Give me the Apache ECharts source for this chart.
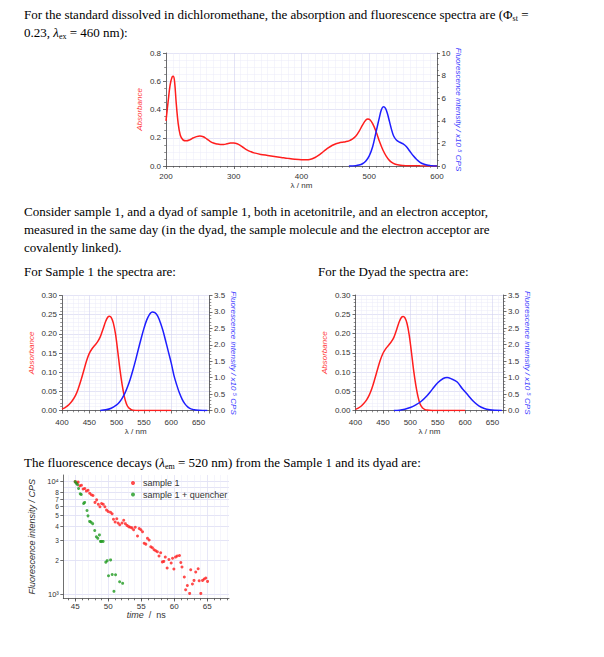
<!DOCTYPE html>
<html><head><meta charset="utf-8">
<script src="https://cdn.jsdelivr.net/npm/echarts@6/dist/echarts.min.js"></script>
<style>
html,body{margin:0;padding:0;background:#fff;}
#wrap{position:relative;width:604px;height:657px;overflow:hidden;background:#fff;}
#chart{position:absolute;left:0;top:0;width:604px;height:657px;}
.t{position:absolute;left:24px;font-family:'Liberation Serif','Times New Roman',serif;font-size:13px;line-height:16px;color:#000;white-space:nowrap;}
.t sub{font-size:8px;vertical-align:-2px;line-height:0;}
</style></head><body>
<div id="wrap">
<div id="chart"></div>
<div class="t" style="top:7px">For the standard dissolved in dichloromethane, the absorption and fluorescence spectra are (Φ<sub>st</sub> =</div>
<div class="t" style="top:25px">0.23, <i>λ</i><sub>ex</sub> = 460 nm):</div>
<div class="t" style="top:204px">Consider sample 1, and a dyad of sample 1, both in acetonitrile, and an electron acceptor,</div>
<div class="t" style="top:222px">measured in the same day (in the dyad, the sample molecule and the electron acceptor are</div>
<div class="t" style="top:240px">covalently linked).</div>
<div class="t" style="top:264px">For Sample 1 the spectra are:</div>
<div class="t" style="top:264px;left:318px">For the Dyad the spectra are:</div>
<div class="t" style="top:455px">The fluorescence decays (<i>λ</i><sub>em</sub> = 520 nm) from the Sample 1 and its dyad are:</div>
</div>
<script>
// ---------- data ----------
const stdAbsNm = [200,203,206,209,211,213,215,218,221,225,230,235,240,245,250,255,260,265,270,275,280,285,290,295,300,305,310,315,320,325,330,340,350,360,370,380,390,400,410,415,420,425,430,435,440,445,450,455,460,465,470,475,480,485,490,495,498,501,505,510,515,520,525,530,535,540,550,560,575,600];
const stdAbs = [0.32,0.45,0.57,0.63,0.635,0.58,0.45,0.30,0.22,0.185,0.178,0.185,0.198,0.208,0.212,0.207,0.192,0.175,0.163,0.156,0.152,0.152,0.157,0.162,0.163,0.158,0.145,0.128,0.113,0.102,0.093,0.082,0.075,0.068,0.061,0.054,0.048,0.045,0.045,0.050,0.060,0.075,0.093,0.112,0.130,0.145,0.156,0.163,0.168,0.172,0.178,0.190,0.210,0.245,0.290,0.325,0.333,0.328,0.300,0.245,0.175,0.115,0.070,0.038,0.020,0.010,0.004,0.002,0.001,0.0];
const stdFlNm = [470,480,485,490,495,500,505,510,515,518,521,524,527,530,533,536,540,545,550,555,560,565,570,575,580,585,590,595,600];
const stdFl = [0,0.03,0.08,0.2,0.45,0.9,1.7,3.0,4.3,5.0,5.25,5.1,4.6,3.9,3.2,2.65,2.3,2.1,1.95,1.7,1.3,0.9,0.58,0.33,0.18,0.09,0.04,0.01,0];

const s1AbsNm = [400,405,410,415,420,425,430,435,440,445,450,455,460,465,470,475,480,484,487,490,494,498,502,506,510,514,518,522,526,530,540,600];
const s1Abs = [0.004,0.007,0.012,0.019,0.028,0.040,0.058,0.080,0.105,0.130,0.149,0.161,0.170,0.179,0.192,0.212,0.233,0.244,0.246,0.243,0.228,0.199,0.155,0.108,0.068,0.037,0.017,0.007,0.003,0.001,0,0];
const s1FlNm = [470,480,490,500,505,510,515,520,525,530,535,540,545,550,555,560,565,570,575,580,585,590,595,600,605,610,615,620,625,630,635,640,650,660,666];
const s1Fl = [0,0.02,0.07,0.17,0.25,0.37,0.52,0.72,0.96,1.24,1.55,1.88,2.2,2.5,2.75,2.92,3.0,2.98,2.88,2.68,2.42,2.1,1.77,1.44,1.06,0.78,0.53,0.34,0.2,0.11,0.055,0.03,0.008,0.001,0];

const dyAbsNm = [400,405,410,415,420,425,430,435,440,445,450,455,460,465,470,475,480,484,487,490,494,498,502,506,510,514,518,522,526,530,540,600];
const dyAbs = [0.003,0.006,0.011,0.018,0.027,0.040,0.058,0.081,0.106,0.130,0.148,0.160,0.169,0.178,0.190,0.210,0.231,0.242,0.244,0.241,0.226,0.196,0.152,0.105,0.066,0.036,0.016,0.007,0.003,0.001,0,0];
const dyFlNm = [470,480,490,500,510,520,530,540,550,560,567,575,585,595,605,615,625,635,645,655,667];
const dyFl = [0,0.01,0.04,0.09,0.17,0.28,0.44,0.64,0.84,0.97,1.0,0.96,0.87,0.66,0.47,0.28,0.14,0.06,0.02,0.005,0];

const decayT1 = [45.00,45.25,45.45,45.70,45.95,46.20,46.45,46.70,46.95,47.20,47.45,47.70,48.00,48.25,48.50,48.75,49.00,49.25,49.50,49.75,50.00,50.35,50.60,50.80,51.05,51.30,51.50,51.75,52.10,52.35,52.60,52.85,53.10,53.35,53.60,53.85,54.10,54.44,54.70,54.95,55.20,55.45,55.70,55.95,56.20,56.45,56.70,56.95,57.20,57.45,57.70,57.95,58.20,58.42,58.65,58.93,59.20,59.54,59.75,59.95,60.20,60.45,60.80,61.00,61.18,61.53,61.73,61.99,62.34,62.50,62.76,63.00,63.26,63.63,63.78,64.03,64.29,64.54,64.79,65.05];
const decayI1 = [10000,9700,9900,9200,9300,8600,8700,8250,8400,7900,7650,7550,6550,6900,6300,6000,6400,6300,6000,5600,5450,5350,5200,4650,4400,4700,4300,4150,4300,4550,4250,4100,4000,3950,3900,3750,3950,3300,3850,3750,3600,2850,2800,3150,3050,2650,2600,2500,2450,2400,2200,2350,1950,1970,2150,1720,2050,1905,2100,1687,2150,2200,2220,1928,1758,1432,1107,1207,1026,1663,1241,1337,1585,1695,1330,1026,1337,1376,1404,1310];
const decayT2 = [45.00,45.15,45.36,45.51,45.77,45.92,46.28,46.43,46.79,46.94,47.19,47.40,47.65,47.96,48.21,48.42,48.67,48.83,48.98,49.23,49.64,49.85,50.36,50.05,50.61,51.12,51.73,52.19,50.87];
const decayI2 = [10000,9700,9400,8700,7800,7700,6400,6550,5550,4980,4450,4380,4250,3700,3250,3150,3380,2960,2960,2960,1940,2000,2030,1470,1510,1500,1300,1260,1070];

const decayXTicks = [45,50,55,60,65];
const decayXMinor = [44,45,46,47,48,49,50,51,52,53,54,55,56,57,58,59,60,61,62,63,64,65,66,67,68];
const decayYTicks = [1000,2000,3000,4000,5000,6000,7000,8000,9000,10000];
const decayYRange = [925,11450];

// ---------- style ----------
const FONT = "'Liberation Sans', Arial, Helvetica, sans-serif";
const AXC = '#4a4a4a', LABC = '#333333';
const GRIDC = '#d2d2f0', MINORC = '#ebebf8';
const RED = '#ff1e1e', BLUE = '#1e1eff', GREEN = '#1f9a1f';
const RED_T = '#ff3c3c', BLUE_T = '#3c3cff';

function merge(a, b) {
  const out = Array.isArray(a) ? a.slice() : Object.assign({}, a);
  for (const k in b) {
    if (b[k] && typeof b[k] === 'object' && !Array.isArray(b[k]) && a[k] && typeof a[k] === 'object' && !Array.isArray(a[k])) out[k] = merge(a[k], b[k]);
    else out[k] = b[k];
  }
  return out;
}
const baseAxis = {
  type: 'value',
  axisLine: {show: true, onZero: false, lineStyle: {color: AXC, width: 0.8}},
  axisTick: {show: true, length: 3, lineStyle: {color: AXC, width: 0.8}},
  minorTick: {show: true, length: 1.8, lineStyle: {color: AXC, width: 0.6}},
  axisLabel: {fontSize: 8, color: LABC, fontFamily: FONT},
  splitLine: {show: false},
  minorSplitLine: {show: false},
  nameLocation: 'middle',
  nameTextStyle: {fontSize: 8, color: LABC, fontFamily: FONT}
};
const gridLines = {
  splitLine: {show: true, lineStyle: {color: GRIDC, width: 0.6}},
  minorSplitLine: {show: true, lineStyle: {color: MINORC, width: 0.5}}
};
function ax(o) { return merge(baseAxis, o); }
function zip(xs, ys) { return xs.map((x, i) => [x, ys[i]]); }

function specAxes(gi, xmin, xmax, xint, xMinorN, yL, yR, gaps) {
  const xa = ax(merge(gridLines, {
    gridIndex: gi, min: xmin, max: xmax, interval: xint, position: 'bottom',
    minorTick: {splitNumber: xMinorN},
    axisLabel: {margin: gaps.xLab, showMaxLabel: xmax % xint === 0},
    name: 'λ / nm', nameGap: gaps.xName
  }));
  const yl = ax(merge(gridLines, {
    gridIndex: gi, min: 0, max: yL.max, interval: yL.int, position: 'left',
    minorTick: {splitNumber: yL.minor},
    axisLabel: {margin: 5, formatter: v => v.toFixed(yL.dec)},
    name: 'Absorbance', nameGap: gaps.yL,
    nameTextStyle: {color: RED_T, fontStyle: 'italic', fontSize: 8}
  }));
  const yr = ax({
    gridIndex: gi, min: 0, max: yR.max, interval: yR.int, position: 'right',
    minorTick: {splitNumber: yR.minor},
    axisLabel: {margin: 4.5, formatter: v => v.toFixed(yR.dec)},
    name: 'Fluorescence intensity / x10 \u2075 CPS', nameRotate: -90, nameGap: gaps.yR,
    nameTextStyle: {color: BLUE_T, fontStyle: 'italic', fontSize: 8}
  });
  return [xa, yl, yr];
}

const a1 = specAxes(0, 200, 600, 100, 10, {max: 0.8, int: 0.2, minor: 4, dec: 1}, {max: 10, int: 2, minor: 4, dec: 0}, {xLab: 6.5, xName: 15, yL: 23, yR: 16});
const a2 = specAxes(1, 400, 670, 50, 5, {max: 0.30, int: 0.05, minor: 5, dec: 2}, {max: 3.5, int: 0.5, minor: 5, dec: 1}, {xLab: 8, xName: 16.5, yL: 27, yR: 18.5});
const a3 = specAxes(2, 400, 670, 50, 5, {max: 0.30, int: 0.05, minor: 5, dec: 2}, {max: 3.5, int: 0.5, minor: 5, dec: 1}, {xLab: 8, xName: 16.5, yL: 27, yR: 19});

const logMin = Math.log10(decayYRange[0]), logMax = Math.log10(decayYRange[1]);
const decayYLog = decayYTicks.map(v => Math.log10(v));

const xDecayMajor = ax({
  gridIndex: 3, min: 43.2, max: 68.3, position: 'bottom',
  minorTick: {show: false},
  axisTick: {customValues: decayXTicks, length: 3},
  axisLabel: {customValues: decayXTicks, margin: 3.5, fontSize: 8},
  splitLine: {show: true, lineStyle: {color: GRIDC, width: 0.6}},
  name: '{i|time}  /  ns', nameGap: 10,
  nameTextStyle: {fontSize: 9, rich: {i: {fontStyle: 'italic', fontSize: 9, color: LABC, fontFamily: FONT}}}
});
const xDecayMinor = ax({
  gridIndex: 3, min: 43.2, max: 68.3, position: 'bottom',
  axisLine: {show: false}, axisLabel: {show: false}, minorTick: {show: false},
  axisTick: {customValues: decayXMinor, length: 1.8},
  splitLine: {show: true, lineStyle: {color: MINORC, width: 0.5}}
});
const yDecayLog = {gridIndex: 3, type: 'log', logBase: 10, min: decayYRange[0], max: decayYRange[1], show: false};
const yDecayLabels = ax({
  gridIndex: 3, min: logMin, max: logMax, position: 'left',
  minorTick: {show: false},
  axisTick: {customValues: decayYLog, length: 3},
  axisLabel: {customValues: decayYLog, margin: 4.5, fontSize: 6.5, lineHeight: 5,
    hideOverlap: false, showMinLabel: true, showMaxLabel: true,
    formatter: v => {
      const r = Math.round(Math.pow(10, v));
      if (r === 1000) return '{m|10\u00b3}';
      if (r === 10000) return '{m|10\u2074}';
      return '{n|' + Math.round(r / 1000) + '}';
    },
    rich: {
      m: {fontSize: 7.5, lineHeight: 5, color: LABC, fontFamily: FONT},
      n: {fontSize: 6.5, lineHeight: 5, color: LABC, fontFamily: FONT}
    }},
  splitLine: {show: true, lineStyle: {color: GRIDC, width: 0.6}},
  name: 'Fluorescence intensity / CPS', nameGap: 27,
  nameTextStyle: {fontSize: 9, fontStyle: 'italic'}
});

const lineS = (name, xi, yi, xs, ys, color) => ({
  name, type: 'line', xAxisIndex: xi, yAxisIndex: yi, data: zip(xs, ys),
  showSymbol: false, smooth: 0.35, clip: true,
  lineStyle: {color, width: 1.5}, itemStyle: {color}, z: 3
});
const scatS = (name, xs, ys, color) => ({
  name, type: 'scatter', xAxisIndex: 3, yAxisIndex: 6, data: zip(xs, ys),
  symbol: 'circle', symbolSize: 3, itemStyle: {color}, z: 3
});

const option = {
  animation: false,
  backgroundColor: 'transparent',
  textStyle: {fontFamily: FONT},
  grid: [
    {left: 166, top: 53, width: 271, height: 113},
    {left: 62, top: 295.5, width: 147.5, height: 115},
    {left: 355.5, top: 295, width: 148, height: 115.5},
    {left: 63.3, top: 475, width: 165.7, height: 123.5}
  ],
  xAxis: [a1[0], a2[0], a3[0], xDecayMajor, xDecayMinor],
  yAxis: [a1[1], a1[2], a2[1], a2[2], a3[1], a3[2], yDecayLog, yDecayLabels],
  legend: {
    data: ['sample 1', 'sample 1 + quencher'],
    orient: 'vertical', left: 131, top: 478, padding: 0,
    itemWidth: 4, itemHeight: 4, itemGap: 1.5, icon: 'circle',
    textStyle: {fontSize: 9, color: LABC, fontFamily: FONT, lineHeight: 10, padding: [0, 0, 0, 3]}
  },
  series: [
    lineS('std abs', 0, 0, stdAbsNm, stdAbs, RED),
    lineS('std fl', 0, 1, stdFlNm, stdFl, BLUE),
    lineS('s1 abs', 1, 2, s1AbsNm, s1Abs, RED),
    lineS('s1 fl', 1, 3, s1FlNm, s1Fl, BLUE),
    lineS('dyad abs', 2, 4, dyAbsNm, dyAbs, RED),
    lineS('dyad fl', 2, 5, dyFlNm, dyFl, BLUE),
    scatS('sample 1', decayT1, decayI1, RED),
    scatS('sample 1 + quencher', decayT2, decayI2, GREEN)
  ]
};
const chart = echarts.init(document.getElementById('chart'), null, {renderer: 'svg'});
chart.setOption(option);
</script>
</body></html>
